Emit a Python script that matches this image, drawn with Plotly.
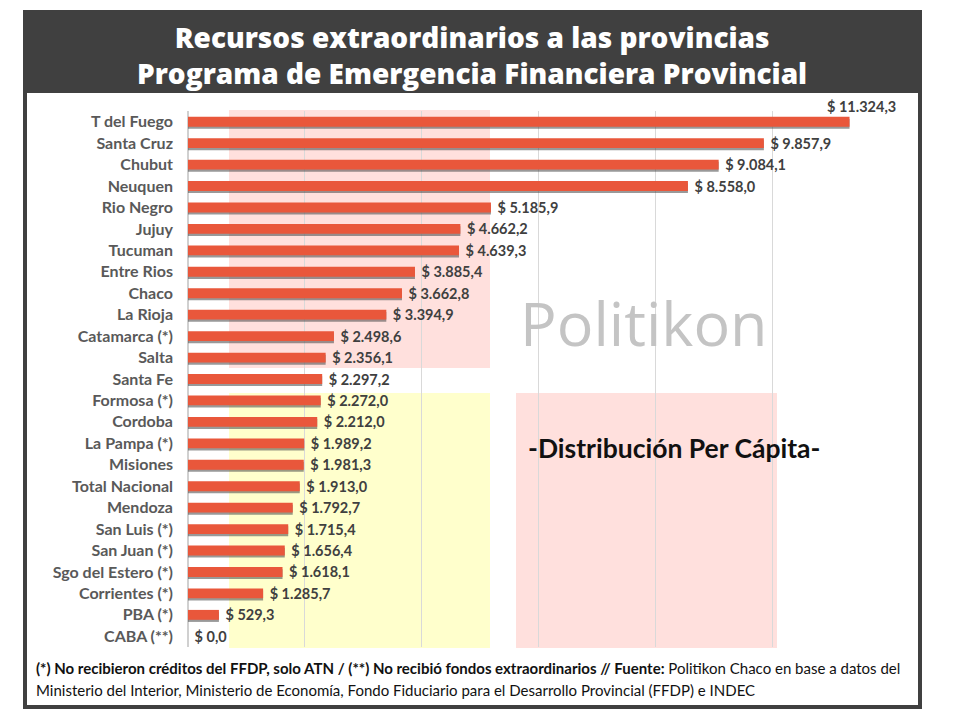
import plotly.graph_objects as go

# valores per cápita (pesos)
provincias = ["T del Fuego", "Santa Cruz", "Chubut", "Neuquen", "Rio Negro", "Jujuy",
              "Tucuman", "Entre Rios", "Chaco", "La Rioja", "Catamarca (*)", "Salta",
              "Santa Fe", "Formosa (*)", "Cordoba", "La Pampa (*)", "Misiones",
              "Total Nacional", "Mendoza", "San Luis (*)", "San Juan (*)",
              "Sgo del Estero (*)", "Corrientes (*)", "PBA (*)", "CABA (**)"]
valores = [11324.3, 9857.9, 9084.1, 8558.0, 5185.9, 4662.2, 4639.3, 3885.4, 3662.8,
           3394.9, 2498.6, 2356.1, 2297.2, 2272.0, 2212.0, 1989.2, 1981.3, 1913.0,
           1792.7, 1715.4, 1656.4, 1618.1, 1285.7, 529.3, 0.0]

W, H = 960, 720
def px(x):
    return x / W
def py(y):
    return 1 - y / H

BAR = "#E9573B"
LBL = dict(family="Lato", size=14.5, color="#404040", weight="bold")
fig = go.Figure()

# sombra de las barras
fig.add_trace(go.Bar(
    x=valores, y=provincias, orientation="h",
    width=0.46, offset=-0.13,
    marker=dict(color="rgba(70,70,70,0.55)", line_width=0),
    hoverinfo="skip", showlegend=False
))
fig.add_trace(go.Bar(
    x=valores, y=provincias, orientation="h",
    width=0.46, offset=-0.23,
    marker=dict(color=BAR, line_width=0),
    texttemplate="\u00a0$ %{x:,.1f}",
    textposition=["none"] + ["outside"] * (len(valores) - 1),
    textfont=LBL,
    constraintext="none", cliponaxis=False, showlegend=False
))

top_txt = f"$ {valores[0]:,.1f}".replace(",", "X").replace(".", ",").replace("X", ".")

def note(x, y, text, font, xanchor="center"):
    return dict(x=px(x), y=py(y), xref="paper", yref="paper", text=text,
                showarrow=False, xanchor=xanchor, yanchor="middle", font=font)

TITLE = dict(family="Open Sans", size=28, color="white", weight=800)
FOOT = dict(family="Lato", size=15, color="#111111")
annotations = [
    dict(x=valores[0], y=provincias[0], xref="x", yref="y", text=top_txt,
         showarrow=False, xanchor="center", xshift=12, yshift=15, font=LBL),
    note(472, 55, "Recursos extraordinarios a las provincias<br>"
                  "Programa de Emergencia Financiera Provincial", TITLE),
    note(644, 322, "Politikon", dict(family="Open Sans", size=61, color="#C4C4C4")),
    note(674, 448, "-Distribución Per Cápita-",
         dict(family="Lato", size=26.5, color="#111111", weight="bold")),
    note(34, 668, "<b>(*) No recibieron créditos del FFDP, solo ATN / (**) No recibió fondos "
                  "extraordinarios // Fuente:</b> Politikon Chaco en base a datos del",
         FOOT, "left"),
    note(34, 690, "Ministerio del Interior, Ministerio de Economía, Fondo Fiduciario para "
                  "el Desarrollo Provincial (FFDP) e INDEC", FOOT, "left"),
]

def rect(x0, y0, x1, y1, **kw):
    return dict(type="rect", xref="paper", yref="paper",
                x0=px(x0), x1=px(x1), y0=py(y1), y1=py(y0), **kw)

shapes = [
    rect(229, 110, 490, 368, fillcolor="#FFE0DD", line_width=0, layer="below"),
    rect(229, 393, 490, 648, fillcolor="#FFFFCC", line_width=0, layer="below"),
    rect(516, 393, 777, 648, fillcolor="#FFE0DD", line_width=0, layer="below"),
    rect(23, 10, 922, 93, fillcolor="#404040", line_width=0, layer="above"),
    rect(25, 12, 920, 707, line=dict(color="#404040", width=4), layer="above"),
]

fig.update_layout(
    width=W, height=H,
    margin=dict(l=0, r=0, t=0, b=0),
    paper_bgcolor="white", plot_bgcolor="rgba(0,0,0,0)",
    barmode="overlay", separators=",.",
    shapes=shapes, annotations=annotations,
    xaxis=dict(domain=[px(188), px(889)], range=[0, 12000], dtick=2000,
               showticklabels=False, showgrid=True, gridcolor="#D9D9D9",
               gridwidth=1, zeroline=True, zerolinecolor="#D0D0D0", fixedrange=True),
    yaxis=dict(domain=[py(647), py(111)], categoryorder="array",
               categoryarray=provincias, range=[len(provincias) - 0.5, -0.5],
               showgrid=False, ticks="", ticklabelstandoff=14, fixedrange=True,
               tickfont=dict(family="Lato", size=16, color="#595959", weight="bold")),
)

fig.write_html("out.html", config={"displayModeBar": False},
               post_script="document.body.style.margin='0';")
